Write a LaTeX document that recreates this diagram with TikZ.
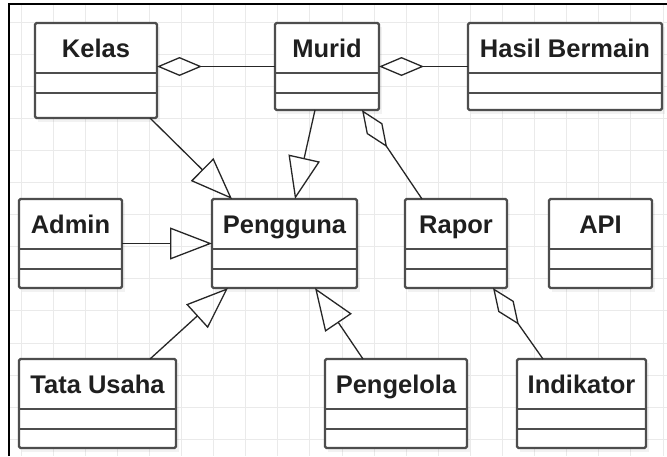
\documentclass[tikz,border=0pt]{standalone}
\usepackage{fontspec}
\setmainfont{Liberation Sans}
\usetikzlibrary{arrows.meta,calc}

\definecolor{boxgray}{HTML}{4D4D4D}
\definecolor{linegray}{HTML}{262626}
\definecolor{titlegray}{HTML}{1F1F1F}
\definecolor{gridgray}{HTML}{EAEAEA}

\tikzset{
  classbox/.style={draw=boxgray, line width=2.4pt, fill=white, rounded corners=1.5pt,
    inner sep=0pt, outer sep=0pt, anchor=north west},
  classtitle/.style={font=\bfseries\fontsize{25.5}{30}\selectfont, text=titlegray, inner sep=0pt},
  classrule/.style={draw=boxgray, line width=2.4pt},
  boxshadow/.style={fill=black, opacity=0.05},
  gridline/.style={draw=gridgray, line width=0.9pt},
  assoc/.style={draw=linegray, line width=1.3pt},
  inherit/.style={assoc, -{Triangle[open, length=42pt, width=32pt]}},
  aggreg/.style={assoc, -{Diamond[open, length=45pt, width=19pt]}},
}

% name, left, top, width, height, title
\newcommand\umlclass[6]{%
  \fill[boxshadow] (#2+3,#3+4) rectangle (#2+#4+3,#3+#5+4);
  \node[classbox, minimum width=#4pt, minimum height=#5pt] (#1) at (#2,#3) {};
  \node[classtitle, anchor=base] (#1-title) at ([yshift=-34pt]#1.north) {#6};
  \draw[classrule] ([yshift=-50pt]#1.north west) -- ([yshift=-50pt]#1.north east);
  \draw[classrule] ([yshift=-70pt]#1.north west) -- ([yshift=-70pt]#1.north east);
}

\begin{document}
\begin{tikzpicture}[x=1pt, y=-1pt]
  \useasboundingbox (0,0) rectangle (667,456);
  \fill[white] (0,0) rectangle (667,456);

  % background grid
  \foreach \i in {0,...,20} {
    \draw[gridline] (21+32.1*\i,4) -- (21+32.1*\i,456);
  }
  \foreach \j in {0,...,13} {
    \draw[gridline] (9,22+32.1*\j) -- (667,22+32.1*\j);
  }

  % frame
  \draw[black, line width=2pt] (9,456) -- (9,4) -- (667,4);

  % classes
  \umlclass{kelas}{35}{23}{122}{95}{Kelas}
  \umlclass{murid}{275}{23}{104}{87}{Murid}
  \umlclass{hasil}{468}{23}{194}{87}{Hasil Bermain}
  \umlclass{admin}{19}{199}{103}{89}{Admin}
  \umlclass{pengguna}{212}{199}{145}{89}{Pengguna}
  \umlclass{rapor}{405}{199}{102}{89}{Rapor}
  \umlclass{api}{549}{199}{103}{89}{API}
  \umlclass{tata}{19}{359}{157}{89}{Tata Usaha}
  \umlclass{pengelola}{325}{359}{142}{89}{Pengelola}
  \umlclass{indikator}{517}{359}{129}{89}{Indikator}

  % aggregations
  \draw[aggreg] (murid.west) -- (murid.west -| kelas.east);
  \draw[aggreg] (hasil.west) -- (hasil.west -| murid.east);
  \draw[aggreg] ([xshift=-34pt]rapor.north) -- ([xshift=35pt]murid.south);
  \draw[aggreg] ([xshift=-38.5pt]indikator.north) -- ([xshift=37pt]rapor.south);

  % generalizations
  \draw[inherit] ([xshift=54pt]kelas.south) -- ([xshift=-52.5pt]pengguna.north);
  \draw[inherit] ([xshift=-12pt]murid.south) -- ([xshift=10.5pt]pengguna.north);
  \draw[inherit] (admin.east) -- (pengguna.west);
  \draw[inherit] ([xshift=52.5pt]tata.north) -- ([xshift=-56.5pt]pengguna.south);
  \draw[inherit] ([xshift=-33pt]pengelola.north) -- ([xshift=30.5pt]pengguna.south);
\end{tikzpicture}
\end{document}
